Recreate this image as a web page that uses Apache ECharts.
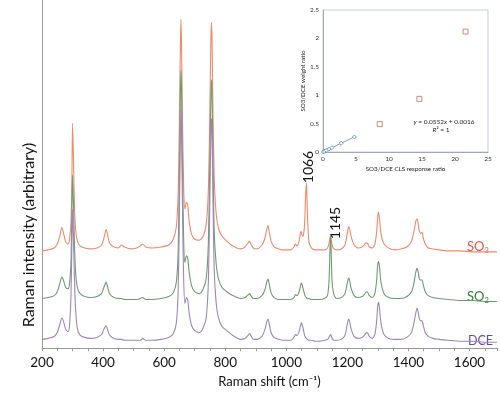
<!DOCTYPE html>
<html>
<head>
<meta charset="utf-8">
<script src="https://cdn.jsdelivr.net/npm/echarts@6/dist/echarts.min.js"></script>
<style>html,body{margin:0;padding:0;background:#fff}#c{width:500px;height:393px}</style>
</head>
<body>
<div id="c"></div>
<script>
// Raman shift sample positions (cm-1)
const shifts = [200,220,240,250,258,265,270,278,285,290,
295,298,300,303,306,310,316,325,340,360,
380,395,402,407,410,414,420,430,450,460,
470,490,510,522,530,540,560,590,615,630,
640,646,650,653,655,657,660,664,668,673,
677,682,690,700,715,728,738,745,750,753,
755,757,760,764,770,778,790,805,825,850,
865,872,880,884,892,905,920,930,936,940,
944,950,960,975,990,1005,1015,1025,1030,1035,
1042,1048,1050,1053,1056,1060,1063,1066,1069,1074,
1082,1095,1110,1125,1135,1140,1143,1145,1147,1150,
1156,1165,1180,1192,1198,1202,1205,1212,1222,1235,
1248,1255,1260,1265,1272,1282,1290,1296,1299,1302,
1305,1310,1320,1335,1355,1375,1395,1410,1418,1424,
1428,1432,1436,1440,1445,1448,1455,1465,1480,1500,
1530,1570,1610,1650,1690];

// Intensities (arbitrary, offset traces)
const so3 = [100,101,103,107,115,124,119,109,107,111,
130,175,231,195,150,122,110,105,103,102,
103,106,112,119,122,118,109,105,103,106,
104,102,103,105,107,104,103,104,106,112,
125,160,235,305,338,312,235,165,143,150,
148,130,117,112,111,115,128,165,250,315,
335,315,240,175,140,123,115,110,105,102,
104,107,110,107,103,102,106,113,122,126,
120,110,104,102,101,101,101,104,107,105,
110,120,120,115,116,128,155,170,140,110,
103,101,101,101,103,108,114,116,112,106,
102,101,102,106,115,122,125,115,106,103,
104,106,108,108,104,103,107,120,134,140,
134,118,107,103,101,102,104,110,120,130,
133,128,120,118,119,114,107,103,102,101,
100,100,99,99,99];

const so2 = [51,52,54,58,66,73,70,62,61,66,
90,140,178,150,110,78,62,56,53,52,
53,56,62,66,68,64,57,53,51,51,
50,50,50,51,52,50,50,51,53,57,
68,100,180,260,286,265,185,110,88,95,
93,78,64,58,56,61,72,110,200,258,
276,258,190,120,88,71,62,58,54,51,
52,54,56,54,51,51,54,60,68,71,
66,57,52,50,50,50,50,52,55,54,
58,66,67,64,60,55,53,52,51,51,
50,50,50,51,54,70,100,117,100,68,
55,51,52,56,64,70,72,62,54,52,
53,55,57,58,54,52,56,70,85,89,
84,68,56,52,51,51,53,58,67,78,
82,78,71,70,70,66,58,54,52,51,
50,49,49,48,48];

const dce = [9,10,12,16,24,31,28,19,17,23,
55,110,143,115,75,40,20,13,11,10,
11,14,19,22,23,20,14,11,9,9,
8,8,8,8,10,8,8,9,11,15,
26,60,140,215,245,222,145,70,46,52,
50,36,23,18,16,21,32,70,160,220,
236,218,150,80,48,31,22,18,13,9,
10,12,15,13,9,9,12,19,27,30,
25,16,11,9,8,8,8,11,14,13,
17,25,26,23,19,13,11,10,9,8,
8,7,7,8,9,11,13,14,13,10,
8,8,9,13,22,28,30,20,12,10,
11,13,15,16,12,10,14,28,42,47,
42,26,14,10,9,9,11,16,26,36,
41,37,30,28,28,24,16,12,10,9,
8,7,7,6,6];

const xTicks = [200,400,600,800,1000,1200,1400,1600];

// Inset calibration data
const clsRatio = [0.05,0.25,0.5,0.9,1.35,2.75,4.75];
const weightRatio = [0.0,0.013,0.03,0.05,0.075,0.155,0.265];
const clsRatio2 = [8.6,14.6,21.6];
const weightRatio2 = [0.49,0.935,2.12];

const pair = (xs, ys) => xs.map((x, i) => [x, ys[i]]);

const chart = echarts.init(document.getElementById('c'), null, {renderer: 'canvas'});
const FONT = 'Lato';
chart.setOption({
  animation: false,
  backgroundColor: '#fff',
  textStyle: {fontFamily: FONT},
  grid: [
    {left: 42, right: 0, top: 0, bottom: 35},
    {left: 323, top: 10, width: 165, height: 142, show: true, borderColor: '#c5ccd8', borderWidth: 1, backgroundColor: 'rgba(0,0,0,0)'}
  ],
  xAxis: [
    {type: 'value', gridIndex: 0, min: 200, max: 1690, interval: 200,
     axisLine: {show: true, lineStyle: {color: '#9a9a9a', width: 1}},
     axisTick: {show: true, length: 3, lineStyle: {color: '#9a9a9a'}},
     minorTick: {show: true, splitNumber: 4, length: 3, lineStyle: {color: '#9a9a9a'}},
     splitLine: {show: false},
     axisLabel: {color: '#111', fontSize: 13.5, margin: 8, fontFamily: FONT,
       formatter: v => xTicks.includes(v) ? String(v) : ''},
     name: 'Raman shift (cm⁻¹)', nameLocation: 'middle', nameGap: 23,
     nameTextStyle: {color: '#111', fontSize: 13, fontFamily: FONT}},
    {type: 'value', gridIndex: 1, min: 0, max: 25, interval: 5,
     axisLine: {show: true, onZero: false, lineStyle: {color: '#a0a8b4'}},
     axisTick: {show: false},
     splitLine: {show: false},
     axisLabel: {color: '#333', fontSize: 6.5, margin: 3, fontFamily: FONT},
     name: 'SO3/DCE CLS response ratio', nameLocation: 'middle', nameGap: 14,
     nameTextStyle: {color: '#222', fontSize: 6.2, fontFamily: FONT}}
  ],
  yAxis: [
    {type: 'value', gridIndex: 0, min: 0, max: 358,
     axisLine: {show: true, lineStyle: {color: '#9a9a9a', width: 1}},
     axisTick: {show: false}, axisLabel: {show: false}, splitLine: {show: false}},
    {type: 'value', gridIndex: 1, min: 0, max: 2.5, interval: 0.5,
     axisLine: {show: true, onZero: false, lineStyle: {color: '#a0a8b4'}},
     axisTick: {show: false}, splitLine: {show: false},
     axisLabel: {color: '#333', fontSize: 6.5, margin: 4, fontFamily: FONT},
     name: 'SO3/DCE weight ratio', nameLocation: 'middle', nameGap: 14,
     nameTextStyle: {color: '#222', fontSize: 6.2, fontFamily: FONT}}
  ],
  series: [
    {type: 'line', xAxisIndex: 0, yAxisIndex: 0, data: pair(shifts, so3), showSymbol: false,
     smooth: 0.25, lineStyle: {color: '#ef8a6c', width: 1.1}},
    {type: 'line', xAxisIndex: 0, yAxisIndex: 0, data: pair(shifts, so2), showSymbol: false,
     smooth: 0.25, lineStyle: {color: '#6f9a70', width: 1.1}},
    {type: 'line', xAxisIndex: 0, yAxisIndex: 0, data: pair(shifts, dce), showSymbol: false,
     smooth: 0.25, lineStyle: {color: '#9d86ba', width: 1.1}},
    {type: 'line', xAxisIndex: 1, yAxisIndex: 1, data: pair(clsRatio, weightRatio),
     symbol: 'diamond', symbolSize: 4, showSymbol: true,
     lineStyle: {color: '#5a86c0', width: 0.8},
     itemStyle: {color: '#fff', borderColor: '#5a86c0', borderWidth: 0.8}},
    {type: 'scatter', xAxisIndex: 1, yAxisIndex: 1, data: pair(clsRatio2, weightRatio2),
     symbol: 'rect', symbolSize: 5,
     itemStyle: {color: '#fff', borderColor: '#c4705e', borderWidth: 1}}
  ],
  graphic: [
    {type: 'text', x: 29, y: 235, rotation: Math.PI / 2,
     style: {text: 'Raman intensity (arbitrary)', font: '16px Lato', fill: '#111', align: 'center', verticalAlign: 'middle'}},
    {type: 'text', x: 308, y: 167, rotation: Math.PI / 2,
     style: {text: '1066', font: '14px Lato', fill: '#111', align: 'center', verticalAlign: 'middle'}},
    {type: 'text', x: 335, y: 223, rotation: Math.PI / 2,
     style: {text: '1145', font: '14px Lato', fill: '#111', align: 'center', verticalAlign: 'middle'}},
    {type: 'text', x: 467, y: 247,
     style: {text: '{n|SO}{s|3}', verticalAlign: 'middle',
       rich: {n: {fontSize: 13, fontFamily: FONT, fill: '#e4573b', color: '#e4573b'},
              s: {fontSize: 7.5, fontFamily: FONT, fill: '#e4573b', color: '#e4573b', padding: [8, 0, 0, 0]}}}},
    {type: 'text', x: 467, y: 297,
     style: {text: '{n|SO}{s|2}', verticalAlign: 'middle',
       rich: {n: {fontSize: 13, fontFamily: FONT, fill: '#2f7a36', color: '#2f7a36'},
              s: {fontSize: 7.5, fontFamily: FONT, fill: '#2f7a36', color: '#2f7a36', padding: [8, 0, 0, 0]}}}},
    {type: 'text', x: 468, y: 341,
     style: {text: 'DCE', font: '12.5px Lato', fill: '#6a4ba0', verticalAlign: 'middle'}},
    {type: 'text', x: 444, y: 122,
     style: {text: '{i|y} = 0.0552{i|x} + 0.0016', align: 'center', verticalAlign: 'middle',
       font: '6.5px Lato', fill: '#222',
       rich: {i: {fontStyle: 'italic', fontSize: 6.5, fontFamily: FONT, fill: '#222', color: '#222'}}}},
    {type: 'text', x: 441, y: 130,
     style: {text: '{i|R}² = 1', align: 'center', verticalAlign: 'middle',
       font: '6.5px Lato', fill: '#222',
       rich: {i: {fontStyle: 'italic', fontSize: 6.5, fontFamily: FONT, fill: '#222', color: '#222'}}}}
  ]
});
</script>
</body>
</html>
